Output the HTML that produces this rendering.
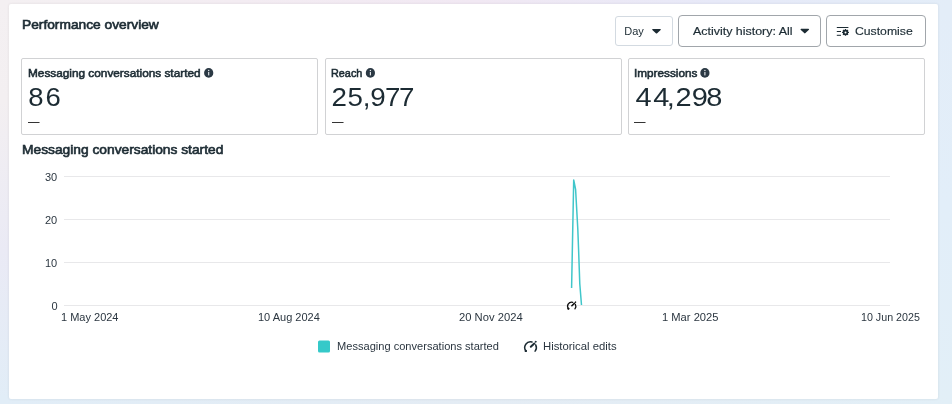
<!DOCTYPE html>
<html>
<head>
<meta charset="utf-8">
<title>Performance overview</title>
<style>
html,body{margin:0;padding:0;}
body{width:952px;height:404px;overflow:hidden;position:relative;font-family:"Liberation Sans",sans-serif;color:#1c2b33;background:#e3edf8;}
.bg{position:absolute;}
#bgl{left:0;top:0;width:20px;height:404px;background:linear-gradient(180deg,#f4f0f2 0%,#f3eff1 25%,#eaeaf5 62%,#e1edf7 100%);}
#bgt{left:0;top:0;width:952px;height:8px;background:linear-gradient(90deg,#f4f0f2 0%,#f3ecf2 25%,#f1e8f3 50%,#e7e9f8 75%,#e3edf8 100%);}
#bgr{left:930px;top:8px;width:22px;height:396px;background:linear-gradient(180deg,#e3edf8 0%,#e2eef9 50%,#e2eff7 100%);}
#bgb{left:0;top:395px;width:952px;height:9px;background:linear-gradient(90deg,#e1edf7 0%,#e4ecf4 50%,#e2eff7 100%);}
.abs{position:absolute;white-space:nowrap;transform-origin:0 0;}
#card{position:absolute;left:9px;top:4px;width:929px;height:395px;background:#fff;border-radius:2px;box-shadow:0 0 3px rgba(30,30,30,0.09);}
.title{font-weight:normal;-webkit-text-stroke:0.6px #1c2b33;line-height:16px;}
.btn{position:absolute;box-sizing:border-box;border:1px solid #cbd2d9;border-radius:4px;background:#fff;}
.btn span{position:absolute;font-size:12px;line-height:14px;white-space:nowrap;transform-origin:0 0;}
.metric{position:absolute;box-sizing:border-box;top:58px;height:77px;width:297px;border:1px solid #d1d2d4;border-radius:2px;background:#fff;}
.lab{font-size:11px;font-weight:normal;-webkit-text-stroke:0.55px #1c2b33;line-height:14px;}
.dash{font-size:12px;line-height:14px;color:#111;transform:scaleX(0.96);}
.ax{font-size:11px;line-height:14px;color:#2b3640;}
</style>
</head>
<body>
<div class="bg" id="bgl"></div><div class="bg" id="bgr"></div><div class="bg" id="bgt"></div><div class="bg" id="bgb"></div>
<div id="card"></div>
<div class="abs title" id="t1" style="left:21.6px;top:17px;font-size:12.3px;transform:scaleX(1.118);">Performance overview</div>

<div class="btn" style="left:615px;top:16px;width:58px;height:30px;border-color:#d3dae1;border-radius:3px;"><span id="b1" style="left:8.3px;top:7px;font-size:11px;transform:scaleX(1.0);">Day</span></div>
<div class="btn" style="left:678px;top:15px;width:143px;height:32px;border-color:#a1a6ab;"><span id="b2" style="left:13.6px;top:8px;font-size:11px;transform:scaleX(1.13);-webkit-text-stroke:0.18px #1c2b33;">Activity history: All</span></div>
<div class="btn" style="left:826px;top:15px;width:100px;height:32px;border-color:#a1a6ab;"><span id="b3" style="left:28.4px;top:8px;font-size:11px;transform:scaleX(1.11);-webkit-text-stroke:0.15px #1c2b33;">Customise</span></div>

<div class="metric" style="left:21px;"></div>
<div class="metric" style="left:325px;"></div>
<div class="metric" style="left:628px;"></div>
<div class="abs lab" id="l1" style="left:27.5px;top:66px;transform:scaleX(1.073);">Messaging conversations started</div>
<div class="abs lab" id="l2" style="left:330.7px;top:66px;transform:scaleX(0.985);">Reach</div>
<div class="abs lab" id="l3" style="left:634.3px;top:66px;transform:scaleX(1.068);">Impressions</div>
<div class="abs dash" id="d1" style="left:27.6px;top:115px;">—</div>
<div class="abs dash" id="d2" style="left:331.5px;top:115px;">—</div>
<div class="abs dash" id="d3" style="left:634.2px;top:115px;">—</div>

<div class="abs title" id="t2" style="left:21.5px;top:142px;font-size:12.3px;transform:scaleX(1.120);">Messaging conversations started</div>

<svg class="abs" style="left:0;top:0" width="952" height="404" viewBox="0 0 952 404" font-family="Liberation Sans, sans-serif">
<g stroke="#e8e8ea" stroke-width="1"><path d="M64 176.5H890M64 219.5H890M64 262.5H890M64 305.5H890"/></g>
<path d="M571.6 288L573.7 180L575.6 189.5L577.8 229L578.6 250L579.8 284L581.5 305" fill="none" stroke="#40c6ca" stroke-width="1.5" stroke-linejoin="round"/>
<!-- values -->
<text transform="scale(1.1,1)" y="106.5" x="25.77 41.38" font-size="25" fill="#1c2b33">86</text>
<text transform="scale(1.11,1)" y="106.5" x="298.59 313.09 326.9 333.62 346.87 359.4" font-size="25" fill="#1c2b33">25,977</text>
<text transform="scale(1.16,1)" y="106.5" x="547.91 563.08 574.9 582.27 596.27 608.86" font-size="25" fill="#1c2b33">44,298</text>
<!-- info icons -->

<g transform="translate(208.7,72.9)"><ellipse cx="0" cy="0" rx="4.6" ry="4.9" fill="#2b3944"/><rect x="-0.55" y="-1" width="1.1" height="3.5" fill="#e8ecef"/><circle cx="0" cy="-2.5" r=".7" fill="#e8ecef"/></g><g transform="translate(370.4,72.9)"><ellipse cx="0" cy="0" rx="4.6" ry="4.9" fill="#2b3944"/><rect x="-0.55" y="-1" width="1.1" height="3.5" fill="#e8ecef"/><circle cx="0" cy="-2.5" r=".7" fill="#e8ecef"/></g><g transform="translate(704.9,72.9)"><ellipse cx="0" cy="0" rx="4.6" ry="4.9" fill="#2b3944"/><rect x="-0.55" y="-1" width="1.1" height="3.5" fill="#e8ecef"/><circle cx="0" cy="-2.5" r=".7" fill="#e8ecef"/></g>
<!-- carets -->
<path id="caret" d="M0.8 0h7.4a.6 .6 0 0 1 .45 1l-3.5 3.3a1 1 0 0 1 -1.3 0l-3.5-3.3a.6 .6 0 0 1 .45-1z" fill="#1c2b33" transform="translate(652,29)"/>
<path d="M0.8 0h7.4a.6 .6 0 0 1 .45 1l-3.5 3.3a1 1 0 0 1 -1.3 0l-3.5-3.3a.6 .6 0 0 1 .45-1z" fill="#1c2b33" transform="translate(800.3,28.8)"/>
<!-- customise icon -->
<g stroke="#1c2b33" stroke-width="1" fill="none"><path d="M836.8 27.5H848.4M836.8 31.5H841M836.8 35.3H841"/></g>
<g transform="translate(845.5,32.4)"><circle r="2.7" fill="#1c2b33"/><g stroke="#1c2b33" stroke-width="1.4"><path d="M0 -3.45V3.45M-3.45 0H3.45M-2.45 -2.45L2.45 2.45M2.45 -2.45L-2.45 2.45"/></g><circle r="1" fill="#fff"/></g>
<!-- chart marker icon -->
<g transform="translate(566.7,301.1) scale(0.71)" fill="none" stroke="#111" stroke-width="1.8" stroke-linecap="round"><path d="M2.32 10.6A5.8 5.8 0 0 1 8.5 1.64"/><path d="M12.2 4.6A5.8 5.8 0 0 1 11.6 10.85"/><path d="M7.3 6.5L10.8 3.15" stroke-width="2.3"/><circle cx="12.1" cy="1.5" r=".5" fill="#111" stroke-width="1.2"/><circle cx="2.2" cy="10.8" r=".9" fill="#111" stroke-width="1.4"/></g>
<!-- legend -->
<rect x="318" y="340.5" width="12" height="12" rx="1.5" fill="#35c9c9"/>
<g transform="translate(523.5,340.3)" fill="none" stroke="#1c2b33" stroke-width="1.5" stroke-linecap="round"><path d="M2.32 10.6A5.8 5.8 0 0 1 8.5 1.64"/><path d="M12.2 4.6A5.8 5.8 0 0 1 11.6 10.85"/><path d="M7.3 6.5L10.8 3.15" stroke-width="2"/><circle cx="12.1" cy="1.5" r=".45" fill="#1c2b33" stroke-width="1"/><circle cx="2.3" cy="10.6" r=".6" fill="#1c2b33" stroke-width="1.2"/></g>
</svg>

<div class="abs ax" id="y3" style="left:45px;top:170px;">30</div>
<div class="abs ax" id="y2" style="left:45px;top:213px;">20</div>
<div class="abs ax" id="y1" style="left:45px;top:256px;">10</div>
<div class="abs ax" id="y0" style="left:51.6px;top:299px;">0</div>

<div class="abs ax" id="x1" style="left:61px;top:310px;">1 May 2024</div>
<div class="abs ax" id="x2" style="left:258px;top:310px;">10 Aug 2024</div>
<div class="abs ax" id="x3" style="left:458.7px;top:310px;transform:scaleX(1.02);">20 Nov 2024</div>
<div class="abs ax" id="x4" style="left:662.3px;top:310px;transform:scaleX(1.015);">1 Mar 2025</div>
<div class="abs ax" id="x5" style="left:860.7px;top:310px;transform:scaleX(0.972);">10 Jun 2025</div>

<div class="abs ax" id="g1" style="left:337px;top:339px;transform:scaleX(1.007);">Messaging conversations started</div>
<div class="abs ax" id="g2" style="left:543px;top:339px;transform:scaleX(1.03);">Historical edits</div>
</body>
</html>
